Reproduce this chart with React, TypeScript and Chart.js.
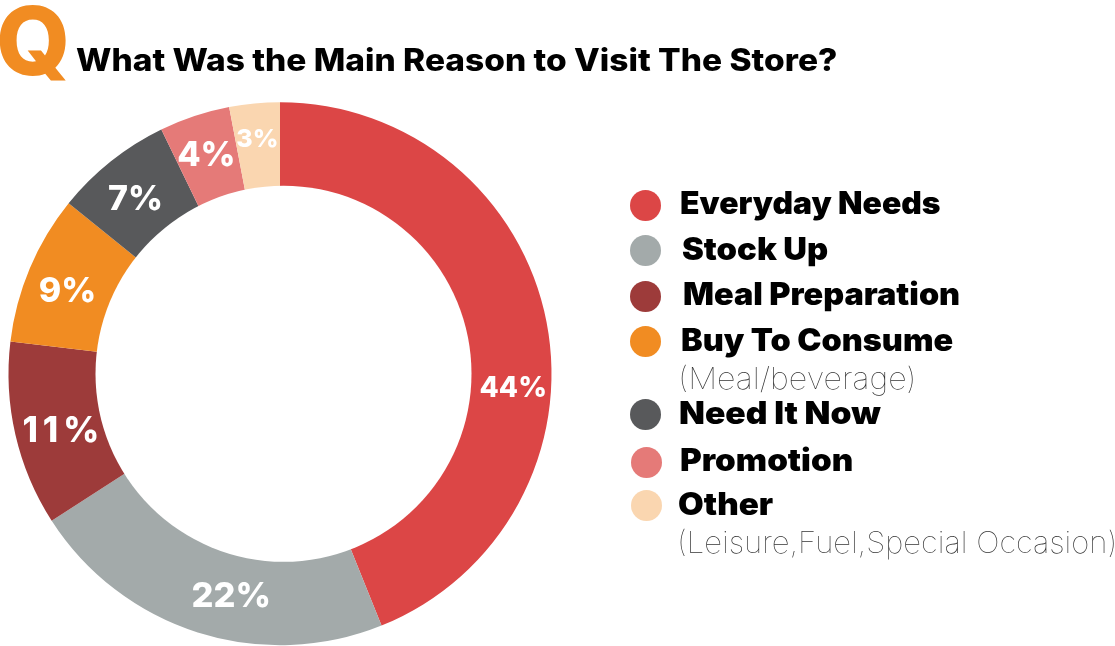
import React, { useEffect, useRef } from "react";
import { Chart, registerables } from "chart.js";

Chart.register(...registerables);

const categories = ["Everyday Needs", "Stock Up", "Meal Preparation", "Buy To Consume", "Need It Now", "Promotion", "Other"];
const notes = ["", "", "", "(Meal/beverage)", "", "", "(Leisure,Fuel,Special Occasion)"];
const shares = [43.9, 22, 11, 8.9, 7, 4.2, 3];
const colours = ["#DC4646", "#A3AAAA", "#9D3B3A", "#F18C22", "#58595B", "#E57A78", "#FAD6B0"];
const titleText = "What Was the Main Reason to Visit The Store?";

const labelShift = [[7, 59], [21, 3], [8, 6], [0, 8], [-1, 6], [-1, 1], [-1, -5]];
const labelSize = [28, 34.5, 35, 34, 34, 34, 25];
const labelTrack = [0, 0, 5, 0, 0, 0, 0];
const legendLayout = [
  { dotX: 645, dotY: 205, textX: 680, textY: 202, stretch: 1.028 },
  { dotX: 645, dotY: 250, textX: 682, textY: 248, stretch: 1.058 },
  { dotX: 645, dotY: 296, textX: 683, textY: 293, stretch: 1.045 },
  { dotX: 645, dotY: 341, textX: 681, textY: 339, stretch: 1.046 },
  { dotX: 645, dotY: 414, textX: 679, textY: 412, stretch: 1.086 },
  { dotX: 646, dotY: 462, textX: 680, textY: 459, stretch: 1.07 },
  { dotX: 646, dotY: 505, textX: 678, textY: 503, stretch: 1.07 },
];
const noteLayout = [null, null, null, { x: 678, y: 378, stretch: 1.075 }, null, null, { x: 677, y: 542, stretch: 1.036 }];
const font = "Inter, 'Open Sans', sans-serif";
const holeRadius = 188;
const holeShiftX = 3.5;

const ringHole = {
  id: "ringHole",
  afterDatasetsDraw(chart: any) {
    const { ctx } = chart;
    const c = chart.getDatasetMeta(0).data[0];
    ctx.save();
    ctx.fillStyle = "#FFFFFF";
    ctx.beginPath();
    ctx.arc(c.x + holeShiftX, c.y, holeRadius, 0, Math.PI * 2);
    ctx.fill();
    ctx.restore();
  },
};

const pctLabels = {
  id: "pctLabels",
  afterDatasetsDraw(chart: any) {
    const { ctx } = chart;
    chart.getDatasetMeta(0).data.forEach((arc: any, i: number) => {
      const a = arc.getProps(["startAngle", "endAngle", "x", "y", "outerRadius"], true);
      const mid = (a.startAngle + a.endAngle) / 2;
      const r = a.outerRadius - 41;
      const cx = a.x + Math.cos(mid) * r;
      const cy = a.y + Math.sin(mid) * r;
      ctx.save();
      ctx.fillStyle = "#FFFFFF";
      ctx.font = `800 ${labelSize[i]}px ${font}`;
      (ctx as any).letterSpacing = `${labelTrack[i]}px`;
      ctx.textAlign = "center";
      ctx.textBaseline = "middle";
      ctx.fillText(`${Math.round(shares[i])}%`, cx + labelShift[i][0], cy + labelShift[i][1]);
      ctx.restore();
    });
  },
};

export default function App() {
  const ref = useRef<HTMLCanvasElement>(null);
  useEffect(() => {
    document.body.style.margin = "0";
    const chart = new Chart(ref.current!, {
      type: "doughnut",
      data: {
        labels: categories,
        datasets: [{ data: shares, backgroundColor: colours, borderWidth: 0 }],
      },
      options: {
        animation: false,
        responsive: false,
        cutout: 178,
        layout: { padding: { left: 8.5, right: 563.5, top: 102, bottom: 0.5 } },
        plugins: { legend: { display: false }, tooltip: { enabled: false } },
      },
      plugins: [ringHole, pctLabels],
    });
    return () => chart.destroy();
  }, []);

  const abs = (x: number, y: number, stretch = 1): React.CSSProperties => ({
    position: "absolute",
    left: x,
    top: y,
    transform: `translateY(-50%) scaleX(${stretch})`,
    transformOrigin: "left center",
    whiteSpace: "nowrap",
    fontFamily: font,
    color: "#000",
  });

  return (
    <div style={{ position: "relative", width: 1115, height: 646, overflow: "hidden", background: "#fff" }}>
      <canvas ref={ref} width={1115} height={646} style={{ position: "absolute", left: 0, top: 0 }} />
      <div style={{ ...abs(-4, 40), fontSize: 95, fontWeight: 800, color: "#F18C22", lineHeight: 1 }}>Q</div>
      <div style={{ ...abs(76, 59, 1.08), fontSize: 31, fontWeight: 800, lineHeight: 1 }}>{titleText}</div>
      {categories.map((name, i) => {
        const note = noteLayout[i];
        return (
          <React.Fragment key={name}>
            <div
              style={{
                position: "absolute",
                left: legendLayout[i].dotX - 15.5,
                top: legendLayout[i].dotY - 15.5,
                width: 31,
                height: 31,
                borderRadius: "50%",
                background: colours[i],
              }}
            />
            <div style={{ ...abs(legendLayout[i].textX, legendLayout[i].textY, legendLayout[i].stretch), fontSize: 31, fontWeight: 900, lineHeight: 1 }}>{name}</div>
            {note && (
              <div style={{ ...abs(note.x, note.y, note.stretch), fontSize: 30, fontWeight: 100, color: "#333", lineHeight: 1 }}>{notes[i]}</div>
            )}
          </React.Fragment>
        );
      })}
    </div>
  );
}
